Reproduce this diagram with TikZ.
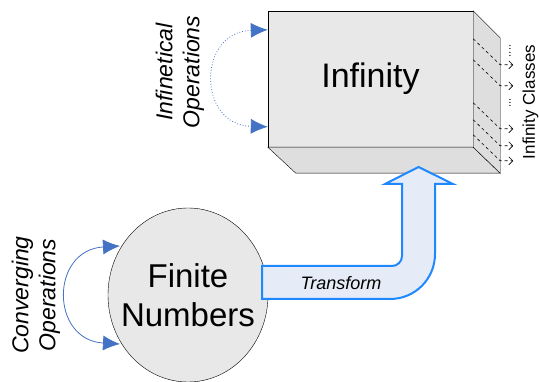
\documentclass[tikz,border=0pt]{standalone}
\usepackage{fontspec}
\setmainfont{Liberation Sans}
\usetikzlibrary{positioning,calc,arrows.meta,shapes.geometric}
\definecolor{arcblue}{HTML}{4472C4}
\definecolor{tfblue}{HTML}{1E88FF}
\definecolor{tffill}{HTML}{E6ECF7}
\definecolor{boxgray}{HTML}{E8E8E8}
\definecolor{sidegray}{HTML}{DEDEDE}
\definecolor{circgray}{HTML}{E8E8E8}
\tikzset{
  opsarc/.style={arcblue,line width=0.8pt,{Latex[length=17pt,width=15pt]}-{Latex[length=17pt,width=15pt]}},
  opslabel/.style={rotate=90,align=center,font=\fontsize{23}{27}\selectfont\itshape},
  classarrow/.style={dashed,line width=0.6pt,-{Straight Barb[length=4pt,width=8pt]}},
}
\begin{document}
\begin{tikzpicture}[x=1pt,y=-1pt]
\useasboundingbox (0,0) rectangle (539,382);
\node[draw,fill=boxgray,minimum width=205pt,minimum height=136pt,inner sep=0pt,font=\fontsize{34}{40}\selectfont] (inf) at (370.5,79) {Infinity};
\draw[fill=sidegray] (inf.south west) -- (inf.south east) -- ++(27,26) -- ($(inf.south west)+(28,26)$) -- cycle;
\draw[fill=sidegray] (inf.north east) -- ++(27,27) -- ($(inf.south east)+(27,26)$) -- (inf.south east) -- cycle;
\foreach \dy in {28,49,92,109,124} {
  \coordinate (cs) at ($(inf.north east)+(0,\dy)$);
  \coordinate (ce) at ($(cs)+(40,26)$);
  \draw[classarrow] (cs) -- ++(27,26) -- (ce);
}
\node[rotate=90,font=\fontsize{11}{13}\selectfont,inner sep=0pt] (dotsa) at (510,51) {....};
\node[rotate=90,font=\fontsize{11}{13}\selectfont,inner sep=0pt] (dotsb) at (510,103) {...};
\node[rotate=90,anchor=south,inner sep=0pt,font=\fontsize{17}{20}\selectfont] (cls) at (538.5,102) {Infinity Classes};
\node[draw,ellipse,fill=circgray,minimum width=160pt,minimum height=174pt,inner sep=0pt] (fin) at (188,295) {};
\node[align=center,font=\fontsize{33}{39}\selectfont] (finlabel) at (fin.center) {Finite\\Numbers};
\draw[tfblue,line width=2pt,fill=tffill] (262,266) -- (392,266) .. controls (397.5,266) and (402,261.5) .. (402,256) -- (402,184) -- (385,184) -- (418.5,167) -- (453,184) -- (435,184) -- (435,254) .. controls (435,279) and (415,299) .. (390,299) -- (262,299) -- cycle;
\node[font=\fontsize{18}{22}\selectfont\itshape] (tf) at (341,283) {Transform};
\node[opslabel] (conv) at (36,295) {Converging\\Operations};
\node[opslabel] (infops) at (180,72) {Infinetical\\Operations};
\coordinate (ca) at ($(fin.center)+(-68,-49)$);
\coordinate (cb) at ($(fin.center)+(-68,49)$);
\draw[opsarc] (ca) .. controls (50,250) and (50,340) .. (cb);
\coordinate (ia) at ($(inf.north west)+(0,19)$);
\coordinate (ib) at ($(inf.north west)+(0,116)$);
\draw[opsarc,dotted] (ia) .. controls (197,32) and (197,125) .. (ib);
\end{tikzpicture}
\end{document}
